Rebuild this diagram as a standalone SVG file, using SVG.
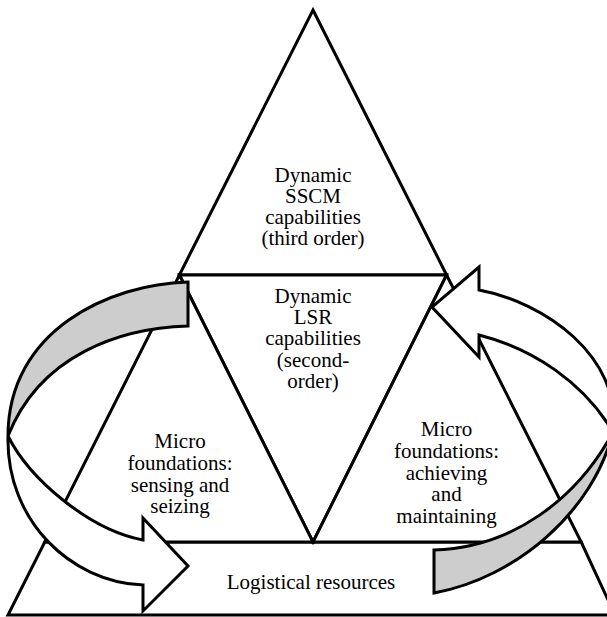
<svg xmlns="http://www.w3.org/2000/svg" width="607" height="617" viewBox="0 0 607 617">
<style>
.shape{fill:#ffffff;stroke:#000000;stroke-width:3;stroke-linejoin:miter}
.lbl{font-family:"Liberation Serif","Times New Roman",serif;font-size:21px;fill:#000000;text-anchor:middle}
.grey{fill:#cdcdcd;stroke:#000000;stroke-width:3;stroke-linejoin:miter}
.white{fill:#ffffff;stroke:#000000;stroke-width:3;stroke-linejoin:miter}
</style>
<rect width="607" height="617" fill="#ffffff"/>
<g id="node-logistical-resources">
<polygon class="shape" points="44.8,542 581.2,542 615,615 8,615"/>
<text class="lbl" x="311" y="589">Logistical resources</text>
</g>
<g id="node-sscm">
<polygon class="shape" points="313,10 446.6,275 179.4,275"/>
<text class="lbl" x="313" y="181.7">Dynamic</text>
<text class="lbl" x="313" y="202.9">SSCM</text>
<text class="lbl" x="313" y="224.1">capabilities</text>
<text class="lbl" x="313" y="245.3">(third order)</text>
</g>
<g id="node-lsr">
<polygon class="shape" points="179.4,275 446.6,275 313,542"/>
<text class="lbl" x="313" y="302.7">Dynamic</text>
<text class="lbl" x="313" y="324">LSR</text>
<text class="lbl" x="313" y="345.3">capabilities</text>
<text class="lbl" x="313" y="366.6">(second-</text>
<text class="lbl" x="313" y="387.9">order)</text>
</g>
<g id="node-sensing">
<polygon class="shape" points="179.4,275 313,542 44.8,542"/>
<text class="lbl" x="180" y="448.3">Micro</text>
<text class="lbl" x="180" y="469.9">foundations:</text>
<text class="lbl" x="180" y="491.5">sensing and</text>
<text class="lbl" x="180" y="513.1">seizing</text>
</g>
<g id="node-achieving">
<polygon class="shape" points="446.6,275 581.2,542 313,542"/>
<text class="lbl" x="446.5" y="436">Micro</text>
<text class="lbl" x="446.5" y="457.8">foundations:</text>
<text class="lbl" x="446.5" y="479.6">achieving</text>
<text class="lbl" x="446.5" y="501.4">and</text>
<text class="lbl" x="446.5" y="523.2">maintaining</text>
</g>
<g id="connectors">
<g id="arrow-left">
<path class="grey" d="M188,282 C110,284 8,330 8,436 C40,355 120,328 188,326 Z"/>
<path class="white" d="M8,436 C6,520 70,582 143,585 L143,611 L188,566 L143,518 L143,540 C90,530 30,480 8,436 Z"/>
</g>
<g id="arrow-right">
<path class="grey" d="M434,593 C516,578 593,512 613,432 C577,499 512,548 434,550 Z"/>
<path class="white" d="M613,432 C622,356 544,302 479,290 L479,267 L432,307 L479,357 L479,335 C534,349 584,383 613,432 Z"/>
</g>
</g>
</svg>
